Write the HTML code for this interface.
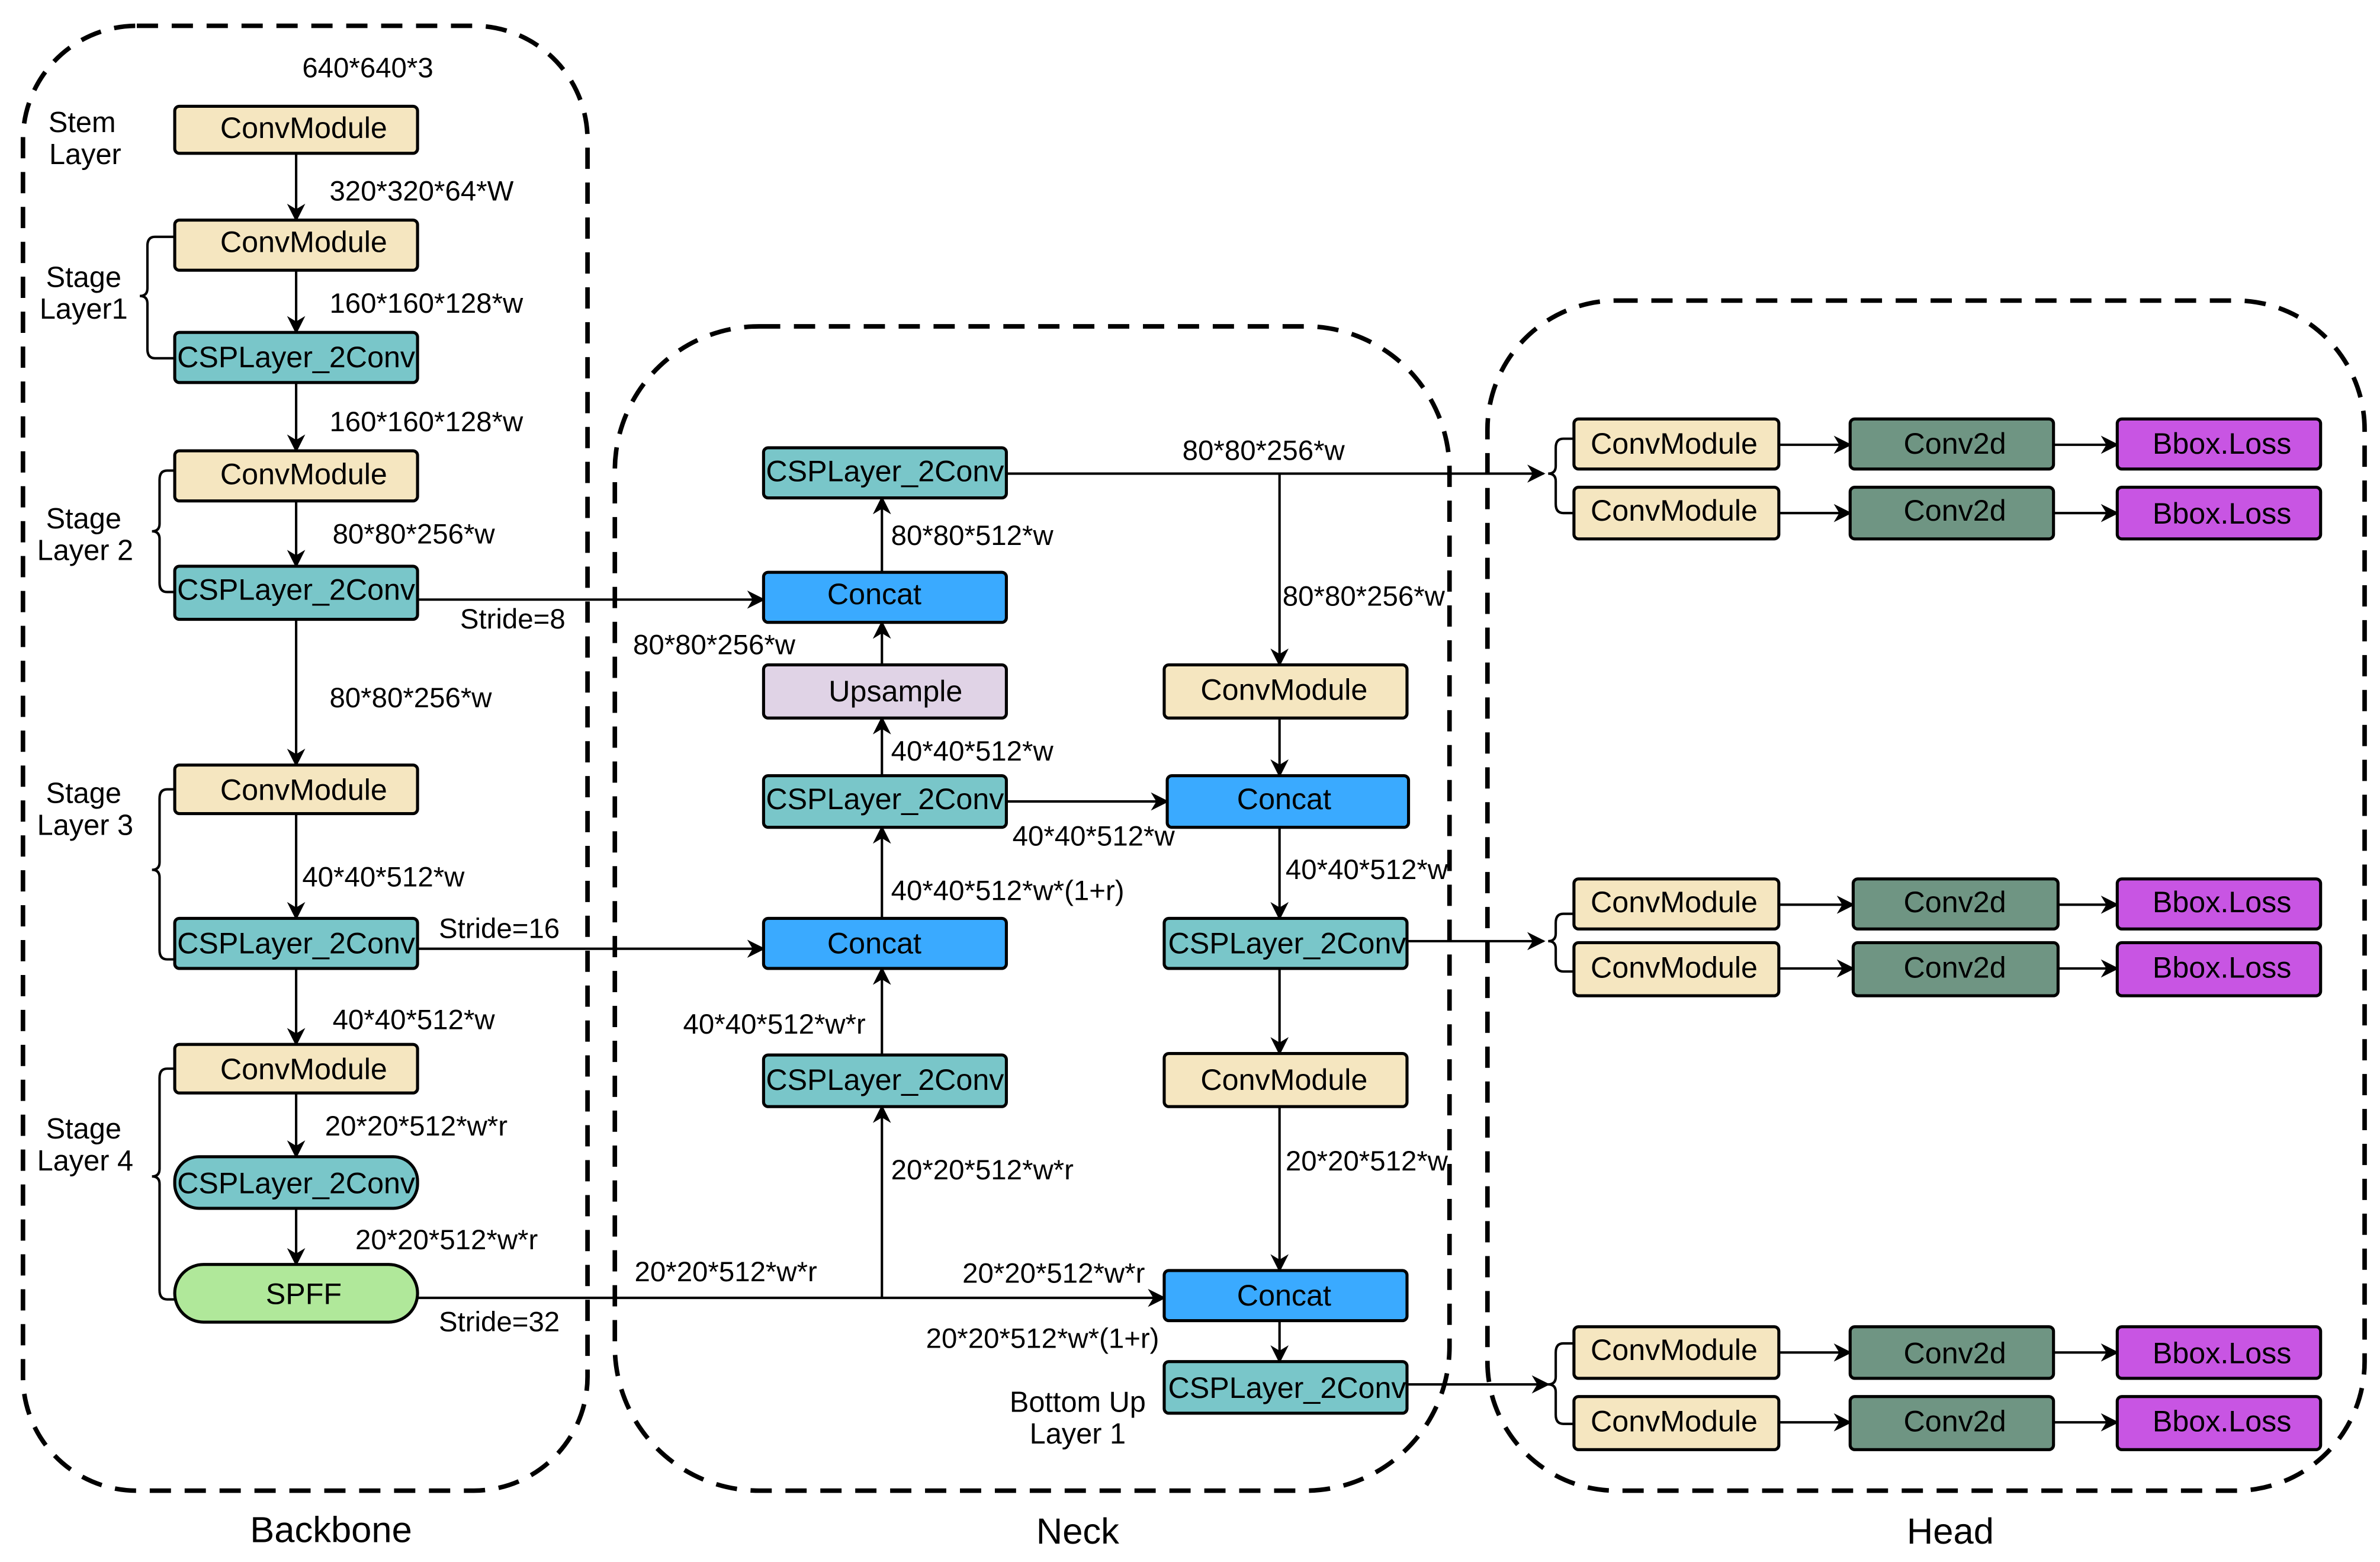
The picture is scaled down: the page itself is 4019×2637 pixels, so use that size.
<!DOCTYPE html>
<html><head><meta charset="utf-8"><style>
html,body{margin:0;padding:0;background:#fff;}
svg{display:block;}
text{font-family:"Liberation Sans",Arial,sans-serif;fill:#000;}
</style></head><body>
<svg width="4019" height="2637" viewBox="0 0 1568 1029" xmlns="http://www.w3.org/2000/svg">
<defs>
<marker id="b" viewBox="0 0 10 10" refX="9" refY="5" markerWidth="12" markerHeight="12" orient="auto" markerUnits="userSpaceOnUse">
<path d="M0,0 L10,5 L0,10 L3,5 Z" fill="#000"/></marker>
</defs>
<g fill="none" stroke="#000" stroke-width="3" stroke-dasharray="14,9">
<rect x="15" y="17" width="372" height="965" rx="75"/>
<rect x="405" y="215" width="550" height="767" rx="95"/>
<rect x="980" y="198" width="578" height="784" rx="85"/>
</g>
<g font-size="24" text-anchor="middle">
<text x="218" y="1016">Backbone</text>
<text x="710" y="1017">Neck</text>
<text x="1285" y="1017">Head</text>
</g>

<g stroke="#000" stroke-width="1.6" fill="none">
<line x1="195" y1="100" x2="195" y2="145" marker-end="url(#b)"/>
<line x1="195" y1="178" x2="195" y2="219" marker-end="url(#b)"/>
<line x1="195" y1="252" x2="195" y2="297" marker-end="url(#b)"/>
<line x1="195" y1="330" x2="195" y2="373" marker-end="url(#b)"/>
<line x1="195" y1="408" x2="195" y2="504" marker-end="url(#b)"/>
<line x1="195" y1="536" x2="195" y2="605" marker-end="url(#b)"/>
<line x1="195" y1="638" x2="195" y2="688" marker-end="url(#b)"/>
<line x1="195" y1="720" x2="195" y2="762" marker-end="url(#b)"/>
<line x1="195" y1="796" x2="195" y2="833" marker-end="url(#b)"/>
<line x1="275" y1="395" x2="503" y2="395" marker-end="url(#b)"/>
<line x1="275" y1="625" x2="503" y2="625" marker-end="url(#b)"/>
<line x1="275" y1="855" x2="767" y2="855" marker-end="url(#b)"/>
<line x1="581" y1="855" x2="581" y2="729" marker-end="url(#b)"/>
<line x1="581" y1="695" x2="581" y2="638" marker-end="url(#b)"/>
<line x1="581" y1="605" x2="581" y2="545" marker-end="url(#b)"/>
<line x1="581" y1="511" x2="581" y2="473" marker-end="url(#b)"/>
<line x1="581" y1="438" x2="581" y2="410" marker-end="url(#b)"/>
<line x1="581" y1="377" x2="581" y2="328" marker-end="url(#b)"/>
<line x1="663" y1="528" x2="769" y2="528" marker-end="url(#b)"/>
<line x1="663" y1="312" x2="1017" y2="312" marker-end="url(#b)"/>
<line x1="843" y1="312" x2="843" y2="438" marker-end="url(#b)"/>
<line x1="843" y1="473" x2="843" y2="511" marker-end="url(#b)"/>
<line x1="843" y1="545" x2="843" y2="605" marker-end="url(#b)"/>
<line x1="843" y1="638" x2="843" y2="694" marker-end="url(#b)"/>
<line x1="843" y1="729" x2="843" y2="837" marker-end="url(#b)"/>
<line x1="843" y1="870" x2="843" y2="897" marker-end="url(#b)"/>
<line x1="927" y1="620" x2="1017" y2="620" marker-end="url(#b)"/>
<line x1="927" y1="912" x2="1020" y2="912" marker-end="url(#b)"/>
<line x1="1172" y1="293" x2="1219" y2="293" marker-end="url(#b)"/>
<line x1="1353" y1="293" x2="1395" y2="293" marker-end="url(#b)"/>
<line x1="1172" y1="338" x2="1219" y2="338" marker-end="url(#b)"/>
<line x1="1353" y1="338" x2="1395" y2="338" marker-end="url(#b)"/>
<line x1="1172" y1="596" x2="1221" y2="596" marker-end="url(#b)"/>
<line x1="1356" y1="596" x2="1395" y2="596" marker-end="url(#b)"/>
<line x1="1172" y1="638" x2="1221" y2="638" marker-end="url(#b)"/>
<line x1="1356" y1="638" x2="1395" y2="638" marker-end="url(#b)"/>
<line x1="1172" y1="891" x2="1219" y2="891" marker-end="url(#b)"/>
<line x1="1353" y1="891" x2="1395" y2="891" marker-end="url(#b)"/>
<line x1="1172" y1="937" x2="1219" y2="937" marker-end="url(#b)"/>
<line x1="1353" y1="937" x2="1395" y2="937" marker-end="url(#b)"/>
<path d="M115,156 H102 Q97,156 97,162 V190 Q97,195 92,195 Q97,195 97,200 V230 Q97,236 102,236 H115"/>
<path d="M115,310 H110 Q105,310 105,316 V345 Q105,350 100,350 Q105,350 105,355 V384 Q105,390 110,390 H115"/>
<path d="M115,520 H110 Q105,520 105,526 V568 Q105,573 100,573 Q105,573 105,578 V626 Q105,632 110,632 H115"/>
<path d="M115,704 H110 Q105,704 105,710 V770 Q105,775 100,775 Q105,775 105,780 V850 Q105,856 110,856 H115"/>
<path d="M1037,289 H1030 Q1025,289 1025,295 V307 Q1025,312 1020,312 Q1025,312 1025,317 V332 Q1025,338 1030,338 H1037"/>
<path d="M1037,602 H1030 Q1025,602 1025,608 V615 Q1025,620 1020,620 Q1025,620 1025,625 V634 Q1025,640 1030,640 H1037"/>
<path d="M1037,885 H1030 Q1025,885 1025,891 V907 Q1025,912 1020,912 Q1025,912 1025,917 V932 Q1025,938 1030,938 H1037"/>
</g>

<g stroke="#000" stroke-width="2">
<g fill="#f5e6c0">
<rect x="115" y="70" width="160" height="31" rx="3"/>
<rect x="115" y="145" width="160" height="33" rx="3"/>
<rect x="115" y="297" width="160" height="33" rx="3"/>
<rect x="115" y="504" width="160" height="32" rx="3"/>
<rect x="115" y="688" width="160" height="32" rx="3"/>
<rect x="767" y="438" width="160" height="35" rx="3"/>
<rect x="767" y="694" width="160" height="35" rx="3"/>
<rect x="1037" y="276" width="135" height="33" rx="3"/>
<rect x="1037" y="321" width="135" height="34" rx="3"/>
<rect x="1037" y="579" width="135" height="33" rx="3"/>
<rect x="1037" y="621" width="135" height="35" rx="3"/>
<rect x="1037" y="874" width="135" height="34" rx="3"/>
<rect x="1037" y="920" width="135" height="35" rx="3"/>
</g>
<g fill="#79c6c9">
<rect x="115" y="219" width="160" height="33" rx="3"/>
<rect x="115" y="373" width="160" height="35" rx="3"/>
<rect x="115" y="605" width="160" height="33" rx="3"/>
<rect x="115" y="762" width="160" height="34" rx="16"/>
<rect x="503" y="295" width="160" height="33" rx="3"/>
<rect x="503" y="511" width="160" height="34" rx="3"/>
<rect x="503" y="695" width="160" height="34" rx="3"/>
<rect x="767" y="605" width="160" height="33" rx="3"/>
<rect x="767" y="897" width="160" height="34" rx="3"/>
</g>
<g fill="#3aaaff">
<rect x="503" y="377" width="160" height="33" rx="3"/>
<rect x="503" y="605" width="160" height="33" rx="3"/>
<rect x="769" y="511" width="159" height="34" rx="3"/>
<rect x="767" y="837" width="160" height="33" rx="3"/>
</g>
<rect x="503" y="438" width="160" height="35" rx="3" fill="#e0d3e6"/>
<rect x="115" y="833" width="160" height="38" rx="19" fill="#b0e89a"/>
<g fill="#6f9583">
<rect x="1219" y="276" width="134" height="33" rx="3"/>
<rect x="1219" y="321" width="134" height="34" rx="3"/>
<rect x="1221" y="579" width="135" height="33" rx="3"/>
<rect x="1221" y="621" width="135" height="35" rx="3"/>
<rect x="1219" y="874" width="134" height="34" rx="3"/>
<rect x="1219" y="920" width="134" height="35" rx="3"/>
</g>
<g fill="#c855e3">
<rect x="1395" y="276" width="134" height="33" rx="3"/>
<rect x="1395" y="321" width="134" height="34" rx="3"/>
<rect x="1395" y="579" width="134" height="33" rx="3"/>
<rect x="1395" y="621" width="134" height="35" rx="3"/>
<rect x="1395" y="874" width="134" height="34" rx="3"/>
<rect x="1395" y="920" width="134" height="35" rx="3"/>
</g>
</g>

<g font-size="19.6" text-anchor="middle">
<text x="200" y="91">ConvModule</text>
<text x="200" y="166">ConvModule</text>
<text x="195" y="242">CSPLayer_2Conv</text>
<text x="200" y="319">ConvModule</text>
<text x="195" y="395">CSPLayer_2Conv</text>
<text x="200" y="527">ConvModule</text>
<text x="195" y="628">CSPLayer_2Conv</text>
<text x="200" y="711">ConvModule</text>
<text x="195" y="786">CSPLayer_2Conv</text>
<text x="200" y="859">SPFF</text>
<text x="583" y="317">CSPLayer_2Conv</text>
<text x="576" y="398">Concat</text>
<text x="590" y="462">Upsample</text>
<text x="583" y="533">CSPLayer_2Conv</text>
<text x="576" y="628">Concat</text>
<text x="583" y="718">CSPLayer_2Conv</text>
<text x="846" y="461">ConvModule</text>
<text x="846" y="533">Concat</text>
<text x="848" y="628">CSPLayer_2Conv</text>
<text x="846" y="718">ConvModule</text>
<text x="846" y="860">Concat</text>
<text x="848" y="921">CSPLayer_2Conv</text>
<text x="1103" y="299">ConvModule</text>
<text x="1103" y="343">ConvModule</text>
<text x="1103" y="601">ConvModule</text>
<text x="1103" y="644">ConvModule</text>
<text x="1103" y="896">ConvModule</text>
<text x="1103" y="943">ConvModule</text>
<text x="1288" y="299">Conv2d</text>
<text x="1288" y="343">Conv2d</text>
<text x="1288" y="601">Conv2d</text>
<text x="1288" y="644">Conv2d</text>
<text x="1288" y="898">Conv2d</text>
<text x="1288" y="943">Conv2d</text>
<text x="1464" y="299">Bbox.Loss</text>
<text x="1464" y="345">Bbox.Loss</text>
<text x="1464" y="601">Bbox.Loss</text>
<text x="1464" y="644">Bbox.Loss</text>
<text x="1464" y="898">Bbox.Loss</text>
<text x="1464" y="943">Bbox.Loss</text>
</g>

<g font-size="19" text-anchor="middle">
<text x="54" y="87">Stem</text><text x="56" y="108">Layer</text>
<text x="55" y="189">Stage</text><text x="55" y="210">Layer1</text>
<text x="55" y="348">Stage</text><text x="56" y="369">Layer 2</text>
<text x="55" y="529">Stage</text><text x="56" y="550">Layer 3</text>
<text x="55" y="750">Stage</text><text x="56" y="771">Layer 4</text>
<text x="710" y="930">Bottom Up</text><text x="710" y="951">Layer 1</text>
</g>

<g font-size="18.5">
<text x="199" y="51">640*640*3</text>
<text x="217" y="132">320*320*64*W</text>
<text x="217" y="206">160*160*128*w</text>
<text x="217" y="284">160*160*128*w</text>
<text x="219" y="358">80*80*256*w</text>
<text x="303" y="414">Stride=8</text>
<text x="217" y="466">80*80*256*w</text>
<text x="199" y="584">40*40*512*w</text>
<text x="289" y="618">Stride=16</text>
<text x="219" y="678">40*40*512*w</text>
<text x="214" y="748">20*20*512*w*r</text>
<text x="234" y="823">20*20*512*w*r</text>
<text x="289" y="877">Stride=32</text>
<text x="417" y="431">80*80*256*w</text>
<text x="418" y="844">20*20*512*w*r</text>
<text x="587" y="359">80*80*512*w</text>
<text x="587" y="501">40*40*512*w</text>
<text x="667" y="557">40*40*512*w</text>
<text x="587" y="593">40*40*512*w*(1+r)</text>
<text x="450" y="681">40*40*512*w*r</text>
<text x="587" y="777">20*20*512*w*r</text>
<text x="634" y="845">20*20*512*w*r</text>
<text x="610" y="888">20*20*512*w*(1+r)</text>
<text x="779" y="303">80*80*256*w</text>
<text x="845" y="399">80*80*256*w</text>
<text x="847" y="579">40*40*512*w</text>
<text x="847" y="771">20*20*512*w</text>
</g>
</svg>
</body></html>
